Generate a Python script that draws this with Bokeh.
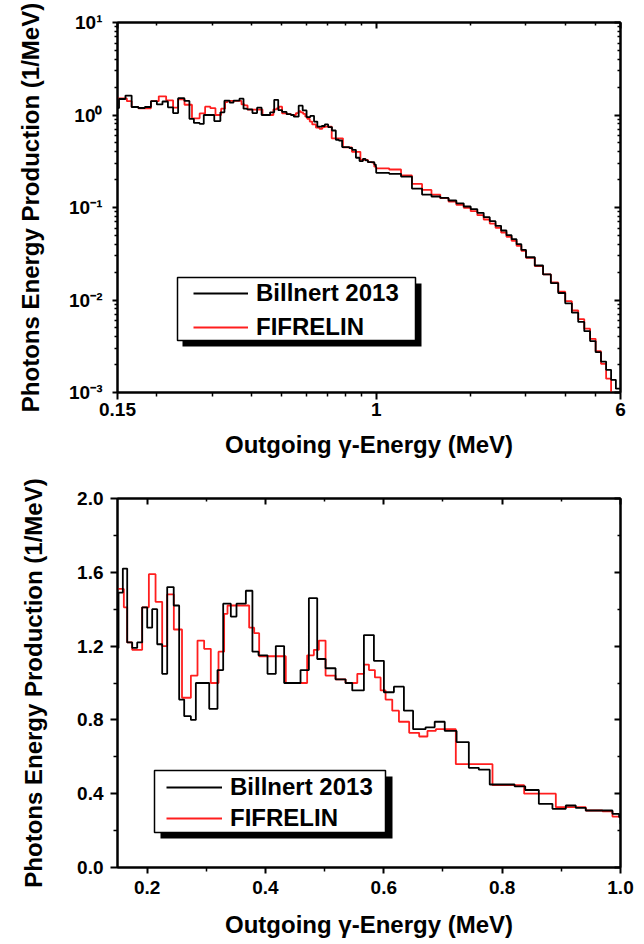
from bokeh.plotting import figure
from bokeh.models import (Range1d, LogAxis, LinearAxis, FixedTicker, Legend, LegendItem,
                          BoxAnnotation, PrintfTickFormatter, ColumnDataSource)
from bokeh.layouts import column
from bokeh.embed import file_html
from bokeh.resources import INLINE

# ---------------- data (histogram bins: left edges + values) ----------------
billnert_low_left = [0.1415, 0.1517, 0.1590, 0.1664, 0.1748, 0.1833, 0.1917, 0.2002, 0.2086, 0.2171,
                     0.2255, 0.2340, 0.2450, 0.2542, 0.2627, 0.2740, 0.2824, 0.3050, 0.3190, 0.3286,
                     0.3415, 0.3511, 0.3669, 0.3780, 0.3883, 0.4035, 0.4175, 0.4316, 0.4593, 0.4734,
                     0.4875, 0.5016, 0.5185, 0.5354, 0.5467, 0.5664, 0.5833, 0.6002, 0.6171, 0.6340,
                     0.6495, 0.6706, 0.6860, 0.7030, 0.7230, 0.7437, 0.7606, 0.7790, 0.8210, 0.8390,
                     0.8620, 0.8850, 0.9076, 0.9244, 0.9413, 0.9864, 0.9977]
billnert_low = [1.19, 1.49, 1.62, 1.22, 1.19, 1.22, 1.41, 1.30, 1.40, 1.21,
                1.05, 1.52, 1.42, 0.91, 0.82, 0.80, 1.00, 0.86, 1.07, 1.43,
                1.36, 1.43, 1.50, 1.17, 1.15, 1.05, 1.20, 1.00, 1.07, 1.46,
                1.13, 1.08, 1.02, 1.00, 0.96, 1.26, 1.12, 0.95, 0.98, 0.85,
                0.75, 0.76, 0.79, 0.74, 0.68, 0.54, 0.53, 0.45, 0.44, 0.42,
                0.345, 0.318, 0.336, 0.323, 0.309, 0.291, 0.273]

fifrelin_low_left = [0.1500, 0.1607, 0.1664, 0.1748, 0.1917, 0.2030, 0.2143, 0.2255, 0.2340, 0.2452,
                     0.2590, 0.2740, 0.2852, 0.2964, 0.3077, 0.3207, 0.3302, 0.3359, 0.3725, 0.3810,
                     0.3894, 0.4344, 0.4705, 0.4818, 0.4903, 0.5016, 0.5185, 0.5354, 0.5552, 0.5664,
                     0.5749, 0.5850, 0.5946, 0.6030, 0.6143, 0.6256, 0.6429, 0.6598, 0.6738, 0.6879,
                     0.7217, 0.7837, 0.8372, 0.8907, 0.9413, 0.9695, 0.9864]
fifrelin_low = [1.51, 1.41, 1.22, 1.18, 1.41, 1.59, 1.44, 1.20, 1.48, 1.29,
                0.92, 1.04, 1.23, 1.185, 1.00, 1.17, 1.375, 1.42, 1.30, 1.27,
                1.145, 1.00, 1.15, 1.18, 1.23, 1.04, 1.02, 1.00, 1.05, 1.10,
                1.07, 1.03, 0.96, 0.91, 0.85, 0.79, 0.73, 0.71, 0.74, 0.75,
                0.56, 0.446, 0.40, 0.327, 0.309, 0.305, 0.276]

high_left = [1.0, 1.1, 1.2, 1.3, 1.4, 1.5, 1.6, 1.7, 1.8, 1.9,
             2.0, 2.1, 2.2, 2.3, 2.4, 2.5, 2.6, 2.7, 2.8, 2.9,
             3.0, 3.2, 3.4, 3.6, 3.8, 4.0, 4.2, 4.4, 4.6, 4.8,
             5.0, 5.2, 5.4, 5.6, 5.8]
high_end = 6.0
billnert_high = [0.237, 0.231, 0.216, 0.160, 0.138, 0.1315, 0.127, 0.119, 0.111, 0.1025,
                 0.0959, 0.0876, 0.0786, 0.0712, 0.0633, 0.0564, 0.0502, 0.0455, 0.0401, 0.0349,
                 0.0290, 0.0236, 0.0189, 0.0152, 0.0119, 0.0092, 0.0073, 0.0058, 0.0046, 0.0036,
                 0.00273, 0.00216, 0.00176, 0.00137, 0.00110]
fifrelin_high = [0.265, 0.2575, 0.222, 0.180, 0.155, 0.138, 0.126, 0.116, 0.107, 0.0992,
                 0.0913, 0.0826, 0.0742, 0.0671, 0.0603, 0.0537, 0.0482, 0.0436, 0.0385, 0.0340,
                 0.0286, 0.0232, 0.0189, 0.0155, 0.0123, 0.0097, 0.0077, 0.0062, 0.0049, 0.0038,
                 0.0028, 0.00204, 0.00141, 0.00099, 0.00097]

series_names = ["Billnert 2013", "FIFRELIN"]

log_x_major = [0.15, 1, 6]
log_x_minor = [0.2, 0.3, 0.4, 0.5, 0.6, 0.7, 0.8, 0.9, 2, 3, 4, 5]
log_x_labels = {0.15: "0.15", 1: "1", 6: "6"}
log_y_major = [1e-3, 1e-2, 1e-1, 1, 10]
log_y_labels = {1e-3: "10\u207b\u00b3", 1e-2: "10\u207b\u00b2", 1e-1: "10\u207b\u00b9",
                1: "10\u2070", 10: "10\u00b9"}
lin_x_major = [0.2, 0.4, 0.6, 0.8, 1.0]
lin_x_minor = [0.3, 0.5, 0.7, 0.9]
lin_y_major = [0.0, 0.4, 0.8, 1.2, 1.6, 2.0]
lin_y_minor = [0.2, 0.6, 1.0, 1.4, 1.8]

X_TITLE = "Outgoing \u03b3-Energy (MeV)"
Y_TITLE = "Photons Energy Production (1/MeV)"

FONT = "Liberation Sans"
RED = "#ff1e1e"
BLACK = "#000000"

FRAME_W = 503
FRAME_H1 = 370
FRAME_H2 = 369


def make_source(low_left, low, high):
    x = list(low_left) + list(high_left) + [high_end]
    y = list(low) + list(high) + [high[-1]]
    return ColumnDataSource(dict(x=x, y=y))


def base_style(ax):
    ax.axis_line_color = "black"
    ax.axis_line_width = 2
    ax.major_tick_line_color = "black"
    ax.major_tick_line_width = 2
    ax.minor_tick_line_color = "black"
    ax.minor_tick_line_width = 1.5
    ax.major_label_text_font = FONT
    ax.major_label_text_font_style = "bold"
    ax.major_label_text_color = "black"
    ax.major_label_text_font_size = "19px"
    ax.axis_label_text_font = FONT
    ax.axis_label_text_font_style = "bold"
    ax.axis_label_text_color = "black"
    ax.axis_label_text_font_size = "24px"


def mirror(ax):
    base_style(ax)
    ax.major_label_text_font_size = "2px"
    ax.major_label_text_alpha = 0
    ax.major_label_standoff = 0
    ax.major_tick_in = 6
    ax.major_tick_out = 0
    ax.minor_tick_in = 3
    ax.minor_tick_out = 0


def add_legend(p, rb, rr, loc, spacing, gw, box, shadow, fx, fy):
    # box / shadow given in frame pixels (left, right, bottom, top) -> data coordinates
    l, r, b, t = shadow
    p.add_layout(BoxAnnotation(left=fx(l), right=fx(r), bottom=fy(b), top=fy(t),
                               fill_color="black", fill_alpha=1, line_color=None))
    l, r, b, t = box
    p.add_layout(BoxAnnotation(left=fx(l), right=fx(r), bottom=fy(b), top=fy(t),
                               fill_color="white", fill_alpha=1,
                               line_color="black", line_width=1.5, line_alpha=1))
    leg = Legend(items=[LegendItem(label=series_names[0], renderers=[rb]),
                        LegendItem(label=series_names[1], renderers=[rr])],
                 location=loc, padding=0, margin=0, spacing=spacing,
                 glyph_width=gw, glyph_height=28, label_height=28, label_standoff=8,
                 border_line_color=None, background_fill_color=None,
                 label_text_font=FONT, label_text_font_style="bold",
                 label_text_font_size="24px", label_text_color="black")
    p.add_layout(leg)


# ---------------- top panel (log-log) ----------------
p1 = figure(width=644, height=476, x_axis_type="log", y_axis_type="log",
            x_range=Range1d(0.15, 6), y_range=Range1d(1e-3, 10),
            output_backend="svg", toolbar_location=None,
            min_border_left=117, min_border_right=24, min_border_top=22, min_border_bottom=84)
p1.grid.visible = False
p1.outline_line_color = "black"
p1.outline_line_width = 2
p1.background_fill_color = "white"
p1.border_fill_color = "white"

xt1 = FixedTicker(ticks=log_x_major, minor_ticks=log_x_minor)
yt1 = FixedTicker(ticks=log_y_major,
                  minor_ticks=[k * 10.0 ** e for e in range(-3, 1) for k in range(2, 10)])

bx1 = p1.below[0]
base_style(bx1)
bx1.ticker = xt1
bx1.major_label_overrides = log_x_labels
bx1.major_tick_in = 0
bx1.major_tick_out = 7
bx1.minor_tick_in = 0
bx1.minor_tick_out = 4
bx1.major_label_standoff = 3
bx1.axis_label = X_TITLE
bx1.axis_label_standoff = 12

ly1 = p1.left[0]
base_style(ly1)
ly1.ticker = yt1
ly1.major_label_overrides = log_y_labels
ly1.major_tick_in = 0
ly1.major_tick_out = 5
ly1.minor_tick_in = 0
ly1.minor_tick_out = 3
ly1.major_label_standoff = 10
ly1.axis_label = Y_TITLE
ly1.axis_label_standoff = 22

ta1 = LogAxis(ticker=xt1)
mirror(ta1)
p1.add_layout(ta1, "above")
ra1 = LogAxis(ticker=yt1)
mirror(ra1)
p1.add_layout(ra1, "right")

src_b = make_source(billnert_low_left, billnert_low, billnert_high)
src_f = make_source(fifrelin_low_left, fifrelin_low, fifrelin_high)

rr1 = p1.step(x="x", y="y", source=src_f, mode="after", line_color=RED, line_width=1.8)
rb1 = p1.step(x="x", y="y", source=src_b, mode="after", line_color=BLACK, line_width=1.8)
add_legend(p1, rb1, rr1, loc=(76, 51), spacing=6, gw=55,
           box=(60, 298, 52, 115), shadow=(65, 304, 46, 109),
           fx=lambda px: 0.15 * (6 / 0.15) ** (px / FRAME_W),
           fy=lambda py: 1e-3 * (1e4) ** (py / FRAME_H1))

# ---------------- bottom panel (linear) ----------------
p2 = figure(width=644, height=468,
            x_range=Range1d(0.15, 1.0), y_range=Range1d(0.0, 2.0),
            output_backend="svg", toolbar_location=None,
            min_border_left=117, min_border_right=24, min_border_top=22, min_border_bottom=77)
p2.grid.visible = False
p2.outline_line_color = "black"
p2.outline_line_width = 2
p2.background_fill_color = "white"
p2.border_fill_color = "white"

xt2 = FixedTicker(ticks=lin_x_major, minor_ticks=lin_x_minor)
yt2 = FixedTicker(ticks=lin_y_major, minor_ticks=lin_y_minor)

bx2 = p2.below[0]
base_style(bx2)
bx2.ticker = xt2
bx2.formatter = PrintfTickFormatter(format="%.1f")
bx2.major_tick_in = 0
bx2.major_tick_out = 6
bx2.minor_tick_in = 0
bx2.minor_tick_out = 4
bx2.major_label_standoff = 7
bx2.axis_label = X_TITLE
bx2.axis_label_standoff = 14

ly2 = p2.left[0]
base_style(ly2)
ly2.ticker = yt2
ly2.formatter = PrintfTickFormatter(format="%.1f")
ly2.major_tick_in = 0
ly2.major_tick_out = 7
ly2.minor_tick_in = 0
ly2.minor_tick_out = 4
ly2.major_label_standoff = 7
ly2.axis_label = Y_TITLE
ly2.axis_label_standoff = 27

ta2 = LinearAxis(ticker=xt2)
mirror(ta2)
p2.add_layout(ta2, "above")
ra2 = LinearAxis(ticker=yt2)
mirror(ra2)
p2.add_layout(ra2, "right")

rr2 = p2.step(x="x", y="y", source=src_f, mode="after", line_color=RED, line_width=1.8)
rb2 = p2.step(x="x", y="y", source=src_b, mode="after", line_color=BLACK, line_width=1.8)
add_legend(p2, rb2, rr2, loc=(49, 35), spacing=3, gw=56,
           box=(37, 268, 35, 97), shadow=(43, 275, 29, 91),
           fx=lambda px: 0.15 + 0.85 * px / FRAME_W,
           fy=lambda py: 2.0 * py / FRAME_H2)

layout = column(p1, p2, spacing=0)
open("out.html", "w").write(file_html(layout, INLINE))
